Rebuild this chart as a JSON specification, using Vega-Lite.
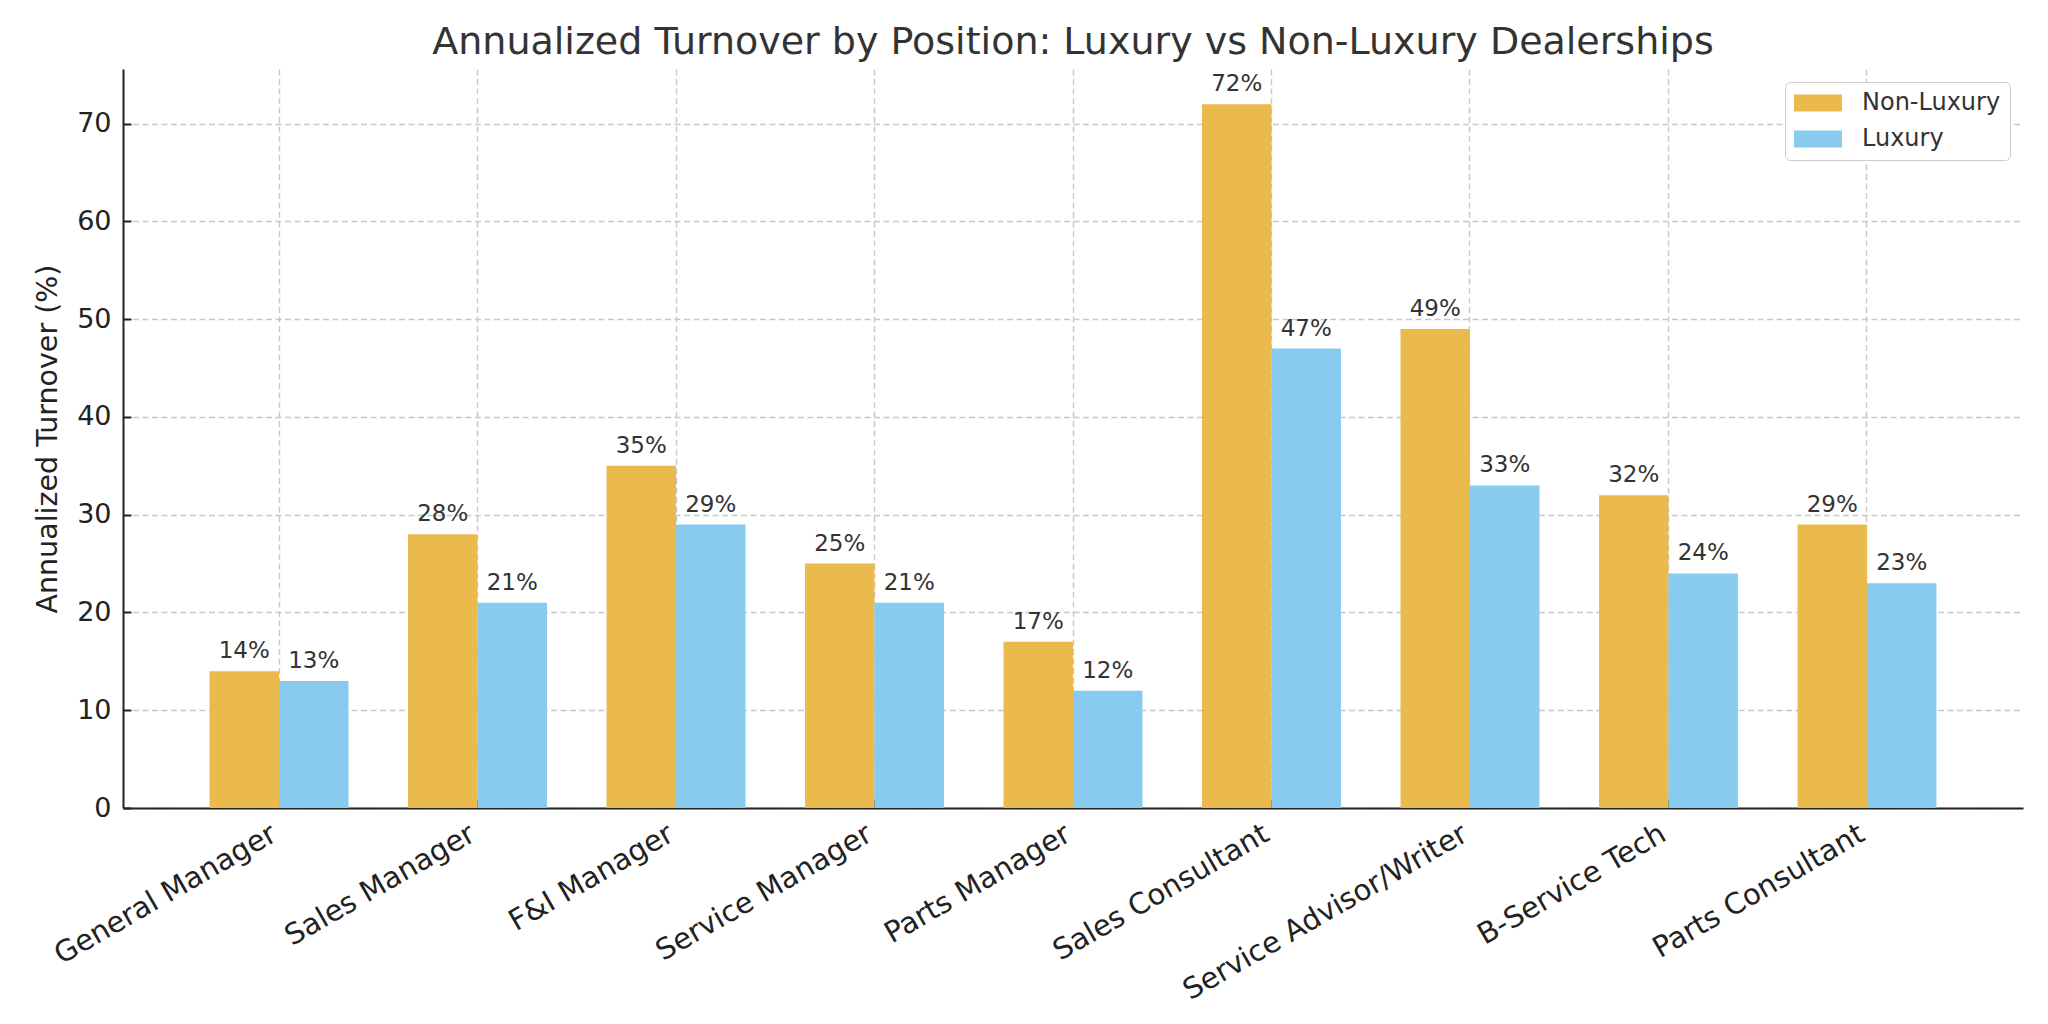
{
  "$schema": "https://vega.github.io/schema/vega-lite/v6.json",
  "width": 1900,
  "height": 739,
  "autosize": {"type": "none"},
  "padding": {"left": 123, "top": 69, "right": 25, "bottom": 216},
  "background": "white",
  "title": {
    "text": "Annualized Turnover by Position: Luxury vs Non-Luxury Dealerships",
    "font": "DejaVu Sans",
    "fontSize": 38,
    "fontWeight": "normal",
    "color": "#333333",
    "anchor": "middle",
    "offset": 7
  },
  "config": {
    "view": {"stroke": null},
    "font": "DejaVu Sans",
    "axis": {
      "zindex": 1,
      "domainColor": "#222222",
      "domainWidth": 2,
      "tickColor": "#222222",
      "tickWidth": 2,
      "labelFont": "DejaVu Sans",
      "labelFontSize": 27,
      "labelColor": "#222222",
      "labelLimit": 0,
      "titleFont": "DejaVu Sans",
      "titleFontSize": 28.5,
      "titleFontWeight": "normal",
      "titleColor": "#222222",
      "gridColor": "#c8c8c8",
      "gridWidth": 1.4,
      "gridDash": [6, 3.5]
    }
  },
  "resolve": {"axis": {"x": "independent", "y": "independent"}},
  "data": {
    "values": [
      {"position": "General Manager", "type": "Non-Luxury", "turnover": 14},
      {"position": "General Manager", "type": "Luxury", "turnover": 13},
      {"position": "Sales Manager", "type": "Non-Luxury", "turnover": 28},
      {"position": "Sales Manager", "type": "Luxury", "turnover": 21},
      {"position": "F&I Manager", "type": "Non-Luxury", "turnover": 35},
      {"position": "F&I Manager", "type": "Luxury", "turnover": 29},
      {"position": "Service Manager", "type": "Non-Luxury", "turnover": 25},
      {"position": "Service Manager", "type": "Luxury", "turnover": 21},
      {"position": "Parts Manager", "type": "Non-Luxury", "turnover": 17},
      {"position": "Parts Manager", "type": "Luxury", "turnover": 12},
      {"position": "Sales Consultant", "type": "Non-Luxury", "turnover": 72},
      {"position": "Sales Consultant", "type": "Luxury", "turnover": 47},
      {"position": "Service Advisor/Writer", "type": "Non-Luxury", "turnover": 49},
      {"position": "Service Advisor/Writer", "type": "Luxury", "turnover": 33},
      {"position": "B-Service Tech", "type": "Non-Luxury", "turnover": 32},
      {"position": "B-Service Tech", "type": "Luxury", "turnover": 24},
      {"position": "Parts Consultant", "type": "Non-Luxury", "turnover": 29},
      {"position": "Parts Consultant", "type": "Luxury", "turnover": 23}
    ]
  },
  "layer": [
    {
      "mark": {"type": "bar"},
      "encoding": {
        "x": {
          "field": "position",
          "type": "nominal",
          "sort": null,
          "scale": {"paddingInner": 0.3, "paddingOuter": 0.436},
          "axis": {
            "title": null,
            "bandPosition": 0.5,
            "ticks": false,
            "labelAngle": -30,
            "labelAlign": "right",
            "labelBaseline": "top",
            "labelFontSize": 29,
            "labelPadding": 11,
            "labelOffset": -12,
            "grid": true
          }
        },
        "xOffset": {
          "field": "type",
          "type": "nominal",
          "sort": ["Non-Luxury", "Luxury"],
          "scale": {"paddingInner": 0, "paddingOuter": 0}
        },
        "y": {
          "field": "turnover",
          "type": "quantitative",
          "scale": {"domain": [0, 75.6], "nice": false},
          "axis": {
            "title": "Annualized Turnover (%)",
            "values": [0, 10, 20, 30, 40, 50, 60, 70],
            "ticks": false,
            "labelPadding": 12,
            "titlePadding": 14,
            "grid": true
          }
        },
        "color": {
          "field": "type",
          "type": "nominal",
          "sort": ["Non-Luxury", "Luxury"],
          "scale": {"domain": ["Non-Luxury", "Luxury"], "range": ["#EBBA4C", "#89CAEF"]},
          "legend": {
            "title": null,
            "orient": "top-right",
            "offset": 13,
            "padding": 9,
            "fillColor": "white",
            "strokeColor": "#cccccc",
            "cornerRadius": 5,
            "symbolType": "M-2,-0.708L2,-0.708L2,0.708L-2,0.708Z",
            "symbolSize": 576,
            "symbolOffset": 12,
            "symbolStrokeWidth": 0,
            "symbolOpacity": 1,
            "labelFont": "DejaVu Sans",
            "labelFontSize": 24,
            "labelColor": "#333333",
            "labelOffset": 32,
            "rowPadding": 12
          }
        }
      }
    },
    {
      "transform": [{"calculate": "datum.turnover + '%'", "as": "label"}],
      "mark": {"type": "text", "baseline": "alphabetic", "dy": -13, "fontSize": 23, "color": "#333333", "font": "DejaVu Sans"},
      "encoding": {
        "x": {
          "field": "position",
          "type": "nominal",
          "sort": null,
          "axis": {
            "orient": "top",
            "offset": -739,
            "bandPosition": 0.5,
            "title": null,
            "labels": false,
            "domain": false,
            "grid": false,
            "ticks": true,
            "tickSize": 8
          }
        },
        "xOffset": {"field": "type", "type": "nominal", "sort": ["Non-Luxury", "Luxury"]},
        "y": {
          "field": "turnover",
          "type": "quantitative",
          "axis": {
            "orient": "right",
            "offset": -1900,
            "values": [0, 10, 20, 30, 40, 50, 60, 70],
            "title": null,
            "labels": false,
            "domain": false,
            "grid": false,
            "ticks": true,
            "tickSize": 8
          }
        },
        "text": {"field": "label", "type": "nominal"}
      }
    }
  ]
}
